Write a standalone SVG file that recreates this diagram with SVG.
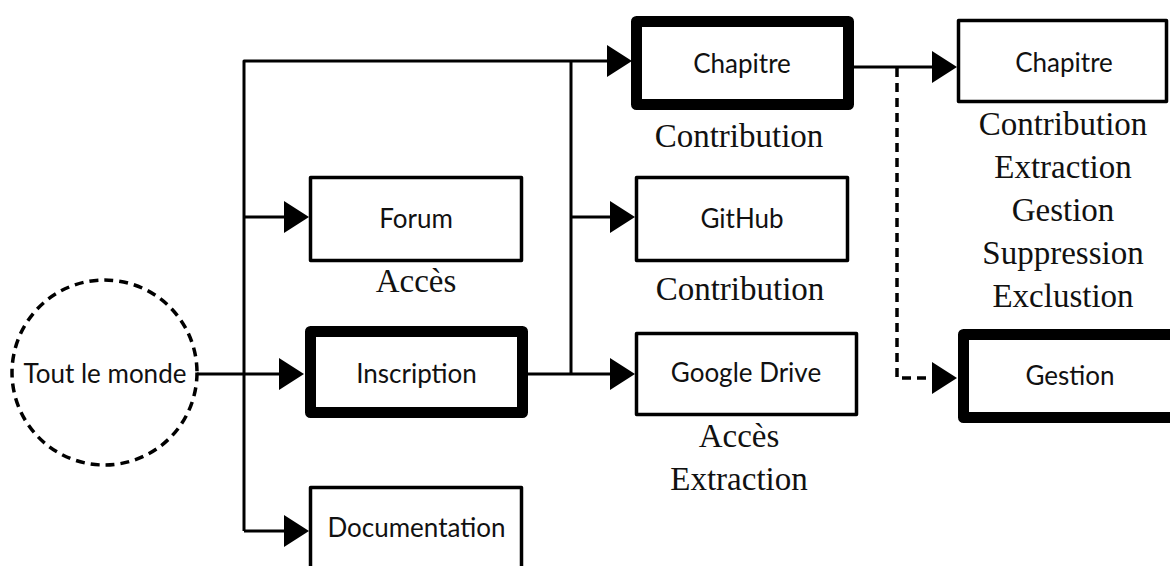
<svg xmlns="http://www.w3.org/2000/svg" width="1170" height="566" viewBox="0 0 1170 566">
<style>
.box{fill:#fff;stroke:#000;stroke-width:3.5;stroke-linejoin:round}
.thick{fill:#fff;stroke:#000;stroke-width:11;stroke-linejoin:round}
.lbl{font-family:Lato,"Liberation Sans",sans-serif;font-size:26px;fill:#111;text-anchor:middle}
.perm{font-family:"Liberation Serif",serif;font-size:33px;fill:#111;text-anchor:middle}
.con{fill:none;stroke:#000;stroke-width:3;stroke-linejoin:round}
.dash{fill:none;stroke:#000;stroke-width:3.5;stroke-dasharray:9 6}
</style>
<defs>
<marker id="arr" markerUnits="userSpaceOnUse" markerWidth="26" markerHeight="34" refX="0" refY="16" orient="auto" overflow="visible">
<path d="M0,0 L25,16 L0,32 z" fill="#000"/>
</marker>
</defs>
<g id="connectors">
<line class="con" x1="197" y1="374" x2="279" y2="374" marker-end="url(#arr)"/>
<path class="con" d="M244,531 L244,61 L607,61" marker-end="url(#arr)"/>
<line class="con" x1="244" y1="217" x2="284" y2="217" marker-end="url(#arr)"/>
<line class="con" x1="244" y1="531" x2="284" y2="531" marker-end="url(#arr)"/>
<line class="con" x1="528" y1="374" x2="610" y2="374" marker-end="url(#arr)"/>
<line class="con" x1="571" y1="374" x2="571" y2="61"/>
<line class="con" x1="571" y1="217" x2="610" y2="217" marker-end="url(#arr)"/>
<line class="con" x1="854" y1="67" x2="932" y2="67" marker-end="url(#arr)"/>
<path class="dash" d="M897,68 L897,378 L932,378" marker-end="url(#arr)"/>
</g>
<g id="tout-le-monde">
<circle cx="104.5" cy="372.5" r="92.5" class="dash" fill="#fff"/>
<text x="105" y="383" class="lbl">Tout le monde</text>
</g>
<g id="forum">
<rect class="box" x="310.5" y="177.5" width="211" height="83"/>
<text x="416" y="228" class="lbl">Forum</text>
<text x="416" y="292" class="perm">Accès</text>
</g>
<g id="inscription">
<rect class="thick" x="310.5" y="331.5" width="212" height="81"/>
<text x="416.5" y="383" class="lbl">Inscription</text>
</g>
<g id="documentation">
<rect class="box" x="310.5" y="487.5" width="211" height="84"/>
<text x="416.5" y="537" class="lbl">Documentation</text>
</g>
<g id="chapitre-1">
<rect class="thick" x="636.5" y="21.5" width="212" height="83"/>
<text x="742" y="73" class="lbl">Chapitre</text>
<text x="739" y="147" class="perm">Contribution</text>
</g>
<g id="github">
<rect class="box" x="636.5" y="177.5" width="211" height="83"/>
<text x="742" y="228" class="lbl">GitHub</text>
<text x="740" y="300" class="perm">Contribution</text>
</g>
<g id="google-drive">
<rect class="box" x="636.5" y="333.5" width="220" height="81"/>
<text x="746" y="382" class="lbl">Google Drive</text>
<text x="739" y="447" class="perm">Accès</text>
<text x="739" y="490" class="perm">Extraction</text>
</g>
<g id="chapitre-2">
<rect class="box" x="958.5" y="20.5" width="208" height="81"/>
<text x="1064" y="72" class="lbl">Chapitre</text>
<text x="1063" y="135" class="perm">Contribution</text>
<text x="1063" y="178" class="perm">Extraction</text>
<text x="1063" y="221" class="perm">Gestion</text>
<text x="1063" y="264" class="perm">Suppression</text>
<text x="1063" y="307" class="perm">Exclustion</text>
</g>
<g id="gestion">
<rect class="thick" x="963.5" y="334.5" width="213" height="83"/>
<text x="1070" y="385" class="lbl">Gestion</text>
</g>
</svg>
